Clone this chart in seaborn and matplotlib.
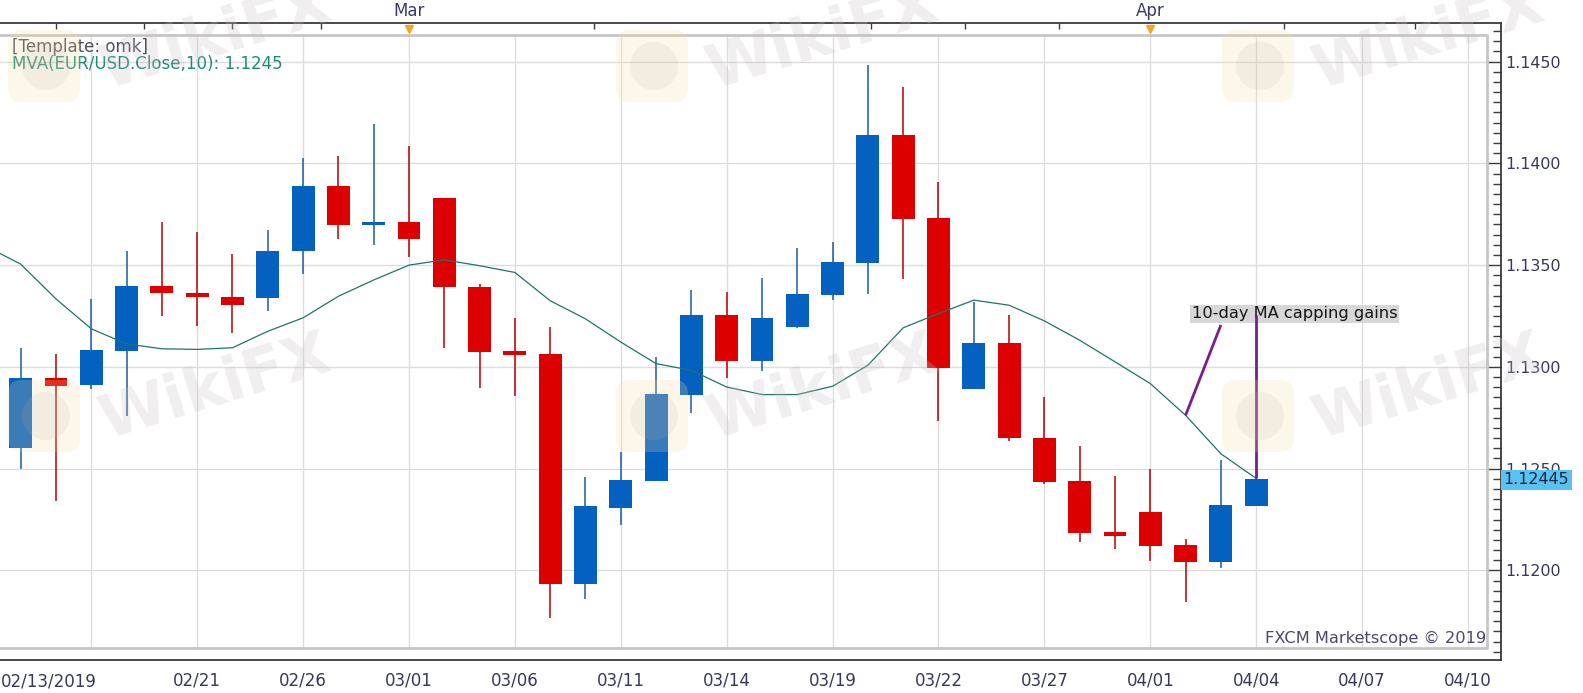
import numpy as np
import pandas as pd
import matplotlib
matplotlib.use('Agg')
import matplotlib.pyplot as plt
import seaborn as sns
from matplotlib.ticker import MultipleLocator
from matplotlib.patches import FancyBboxPatch, Circle
from matplotlib.transforms import IdentityTransform, blended_transform_factory

# EUR/USD daily candles, 02/14 - 04/04 2019
dates = ['02/14', '02/15', '02/18', '02/19', '02/20', '02/21', '02/22', '02/25', '02/26',
         '02/27', '02/28', '03/01', '03/04', '03/05', '03/06', '03/07', '03/08', '03/11',
         '03/12', '03/13', '03/14', '03/15', '03/18', '03/19', '03/20', '03/21', '03/22',
         '03/25', '03/26', '03/27', '03/28', '03/29', '04/01', '04/02', '04/03', '04/04']
opens = [1.12603, 1.12944, 1.12909, 1.13077, 1.13399, 1.13365, 1.13345, 1.13337, 1.13567,
         1.13891, 1.13698, 1.13714, 1.13830, 1.13394, 1.13076, 1.13061, 1.11934, 1.12309,
         1.12441, 1.12862, 1.13257, 1.13029, 1.13195, 1.13354, 1.13511, 1.14139, 1.13731,
         1.12890, 1.13115, 1.12653, 1.12438, 1.12187, 1.12287, 1.12125, 1.12039, 1.12318]
highs = [1.13095, 1.13061, 1.13335, 1.13570, 1.13714, 1.13665, 1.13554, 1.13675, 1.14027,
         1.14038, 1.14194, 1.14087, 1.13832, 1.13407, 1.13241, 1.13198, 1.12459, 1.12583,
         1.13048, 1.13379, 1.13369, 1.13438, 1.13586, 1.13613, 1.14484, 1.14375, 1.13908,
         1.13320, 1.13256, 1.12850, 1.12609, 1.12463, 1.12497, 1.12156, 1.12541, 1.12455]
lows = [1.12497, 1.12343, 1.12892, 1.12759, 1.13249, 1.13200, 1.13166, 1.13273, 1.13454,
        1.13629, 1.13599, 1.13541, 1.13094, 1.12896, 1.12857, 1.11768, 1.11860, 1.12221,
        1.12441, 1.12774, 1.12945, 1.12980, 1.13190, 1.13330, 1.13359, 1.13433, 1.12735,
        1.12889, 1.12634, 1.12427, 1.12142, 1.12104, 1.12044, 1.11844, 1.12010, 1.12318]
closes = [1.12944, 1.12908, 1.13081, 1.13399, 1.13361, 1.13342, 1.13303, 1.13570, 1.13891,
          1.13698, 1.13714, 1.13629, 1.13392, 1.13073, 1.13060, 1.11934, 1.12317, 1.12445,
          1.12865, 1.13257, 1.13029, 1.13241, 1.13356, 1.13515, 1.14139, 1.13728, 1.12993,
          1.13115, 1.12650, 1.12435, 1.12186, 1.12171, 1.12122, 1.12039, 1.12321, 1.12448]

# 10-day moving average, starting one day earlier (02/13)
ma_dates = ['02/13'] + dates
ma_vals = [1.13594, 1.13505, 1.13334, 1.13187, 1.13113, 1.13089, 1.13086, 1.13094, 1.13175,
           1.13241, 1.13347, 1.13427, 1.13500, 1.13526, 1.13497, 1.13464, 1.13325, 1.13236,
           1.13122, 1.13016, 1.12983, 1.12901, 1.12864, 1.12864, 1.12905, 1.13008, 1.13192,
           1.13262, 1.13328, 1.13303, 1.13226, 1.13131, 1.13025, 1.12918, 1.12762, 1.12573,
           1.12452]

# axis labels
x_tick_labels = ['', '02/21', '02/26', '03/01', '03/06', '03/11', '03/14', '03/19',
                 '03/22', '03/27', '04/01', '04/04', '04/07', '04/10']
price_ticks = [1.1200, 1.1250, 1.1300, 1.1350, 1.1400, 1.1450]
months = ['Mar', 'Apr']
month_days = ['03/01', '04/01']
last_price = 1.12445
note_text = '10-day MA capping gains'

df = pd.DataFrame({'date': dates, 'open': opens, 'high': highs, 'low': lows, 'close': closes})
df['x'] = np.arange(len(df))
df['up'] = df['close'] >= df['open']
ma = pd.DataFrame({'date': ma_dates, 'ma': ma_vals})
ma['x'] = np.arange(len(ma)) - 1
ma_at = dict(zip(ma['x'], ma['ma']))

W, H = 1583, 693
sns.set_style('white')
plt.rcParams['font.family'] = ['DejaVu Sans']
fig = plt.figure(figsize=(W / 100, H / 100), dpi=100)
ax = fig.add_axes([0, 33 / H, 1501 / W, (660 - 23.3) / H])
ax.set_xlim(-0.586, 41.935)
ax.set_ylim(1.115598, 1.146882)

# inner frame (axes fraction)
xr = 1487 / 1501
yb = 12 / 636.7
yt = 625 / 636.7
ax.plot([0, xr, xr, 0], [yt, yt, yb, yb], transform=ax.transAxes, color='#c6c6c6',
        lw=2, zorder=1.2, clip_on=False)

# grid
tick_pos = np.arange(2, 42, 3)
for p in price_ticks:
    ax.axhline(p, xmin=0, xmax=xr, color='#dddddd', lw=1, zorder=0.5)
for t in tick_pos:
    ax.axvline(t, ymin=yb, ymax=yt, color='#dddddd', lw=1, zorder=0.5)

# candles
blue, red = '#0561c0', '#dc0000'
wick_c = np.where(df['up'], '#1a5c9a', '#b80000')
body_c = np.where(df['up'], blue, red)
ax.vlines(df['x'], df['low'], df['high'], colors=wick_c, lw=1.1, zorder=2)
body_lo = np.minimum(df['open'], df['close'])
body_h = np.maximum(np.abs(df['close'] - df['open']), 0.00012)
ax.bar(df['x'], body_h, bottom=body_lo, width=0.65, color=body_c, lw=0, zorder=3)

# moving average
sns.lineplot(data=ma, x='x', y='ma', ax=ax, color='#1f7468', lw=0.9, zorder=3.5)
ax.set_xlabel('')
ax.set_ylabel('')

# spines
for s in ['top', 'right', 'bottom']:
    ax.spines[s].set_color('#3a3a3a')
    ax.spines[s].set_linewidth(1.3)
ax.spines['left'].set_visible(False)

# x ticks
lab_c = '#38385a'
ax.set_xticks(tick_pos, x_tick_labels)
ax.xaxis.set_minor_locator(MultipleLocator(0.375, offset=2))
ax.tick_params(axis='x', which='major', direction='in', length=8.6, width=1,
               colors='#3a3a3a', labelcolor=lab_c, labelsize=12, pad=8.5)
ax.tick_params(axis='x', which='minor', direction='in', length=3.6, width=1, colors='#3a3a3a')
fig.text(1 / W, 1 - 672 / H, '02/13/2019', ha='left', va='top', fontsize=12, color=lab_c)

# y ticks on the right
ax.yaxis.tick_right()
ax.set_yticks(price_ticks, ['%.4f' % p for p in price_ticks])
ax.yaxis.set_minor_locator(MultipleLocator(0.0005))
ax.tick_params(axis='y', which='major', direction='in', length=10.3, width=1,
               colors='#3a3a3a', labelcolor=lab_c, labelsize=11.4, pad=3)
ax.tick_params(axis='y', which='minor', direction='in', length=5.5, width=1, colors='#3a3a3a')

# last price tag
tr = blended_transform_factory(ax.transAxes, ax.transData)
ax.text(1 + 2.5 / 1501, last_price, '%.5f' % last_price, transform=tr, ha='left', va='center',
        fontsize=11.4, color='#14243a', zorder=5, clip_on=False,
        bbox=dict(boxstyle='square,pad=0.15', fc='#58c3f2', ec='none'))

# top axis: month markers and small ticks
top_ticks = [1.0, 3.5, 6.0, 8.5, 16.25, 24.1, 26.75, 29.4, 35.8, 39.5]
xt = ax.get_xaxis_transform()
ax.vlines(top_ticks, 1 - 6 / 636.7, 1, transform=xt, color='#3a3a3a', lw=1, clip_on=False)
month_x = [dates.index(d) for d in month_days]
for m, mx in zip(months, month_x):
    ax.text(mx, 1 + 12.3 / 636.7, m, transform=xt, ha='center', va='center',
            fontsize=12, color='#3a3a66')
ax.plot(month_x, [1 - 6 / 636.7] * 2, 'v', transform=xt, ms=6, color='#f2a52a',
        clip_on=False, zorder=5)

# header texts
fig.text(12.5 / W, 1 - 46.7 / H, '[Template: omk]', ha='left', va='center', fontsize=12,
         color='#4e4e5c')
fig.text(12.5 / W, 1 - 64.3 / H, 'MVA(EUR/USD.Close,10): %.4f' % ma_vals[-1], ha='left',
         va='center', fontsize=12, color='#1f8a7a')
ax.text(xr - 1 / 1501, 21.7 / 636.7, 'FXCM Marketscope \u00a9 2019', transform=ax.transAxes,
        ha='right', va='center', fontsize=11.7, color='#4a4a66')

# annotation
ax.text(33.17, 1.13260, note_text, ha='left', va='center', fontsize=11.7, color='#151515',
        zorder=4, bbox=dict(boxstyle='square,pad=0.08', fc='#d7d7d7', ec='none'))
ax.plot([34.0, 33], [1.13206, ma_at[33]], color='#78208a', lw=2, zorder=4.5,
        solid_capstyle='butt')
ax.plot([35, 35], [1.13255, ma_at[35]], color='#78208a', lw=2, zorder=4.5,
        solid_capstyle='butt')

# WikiFX watermarks (pixel positions, top-left origin)
idt = IdentityTransform()
for tx, lx in [(215, 44), (822, 652), (1428, 1258)]:
    for ty, ly in [(38, 66), (388, 416)]:
        fig.text(tx / W, 1 - ty / H, 'WikiFX', rotation=17, fontsize=44, fontweight='bold',
                 color='#c8c0c0', alpha=0.27, ha='center', va='center', zorder=10)
        fig.add_artist(FancyBboxPatch((lx - 36, H - ly - 36), 72, 72,
                                      boxstyle='round,pad=0,rounding_size=14',
                                      transform=idt, fc='#f9dfa0', ec='none', alpha=0.22,
                                      zorder=10))
        fig.add_artist(Circle((lx + 2, H - ly), 24, transform=idt, fc='#b8afaf', ec='none',
                              alpha=0.15, zorder=10))

fig.savefig('out.png', dpi=100)
